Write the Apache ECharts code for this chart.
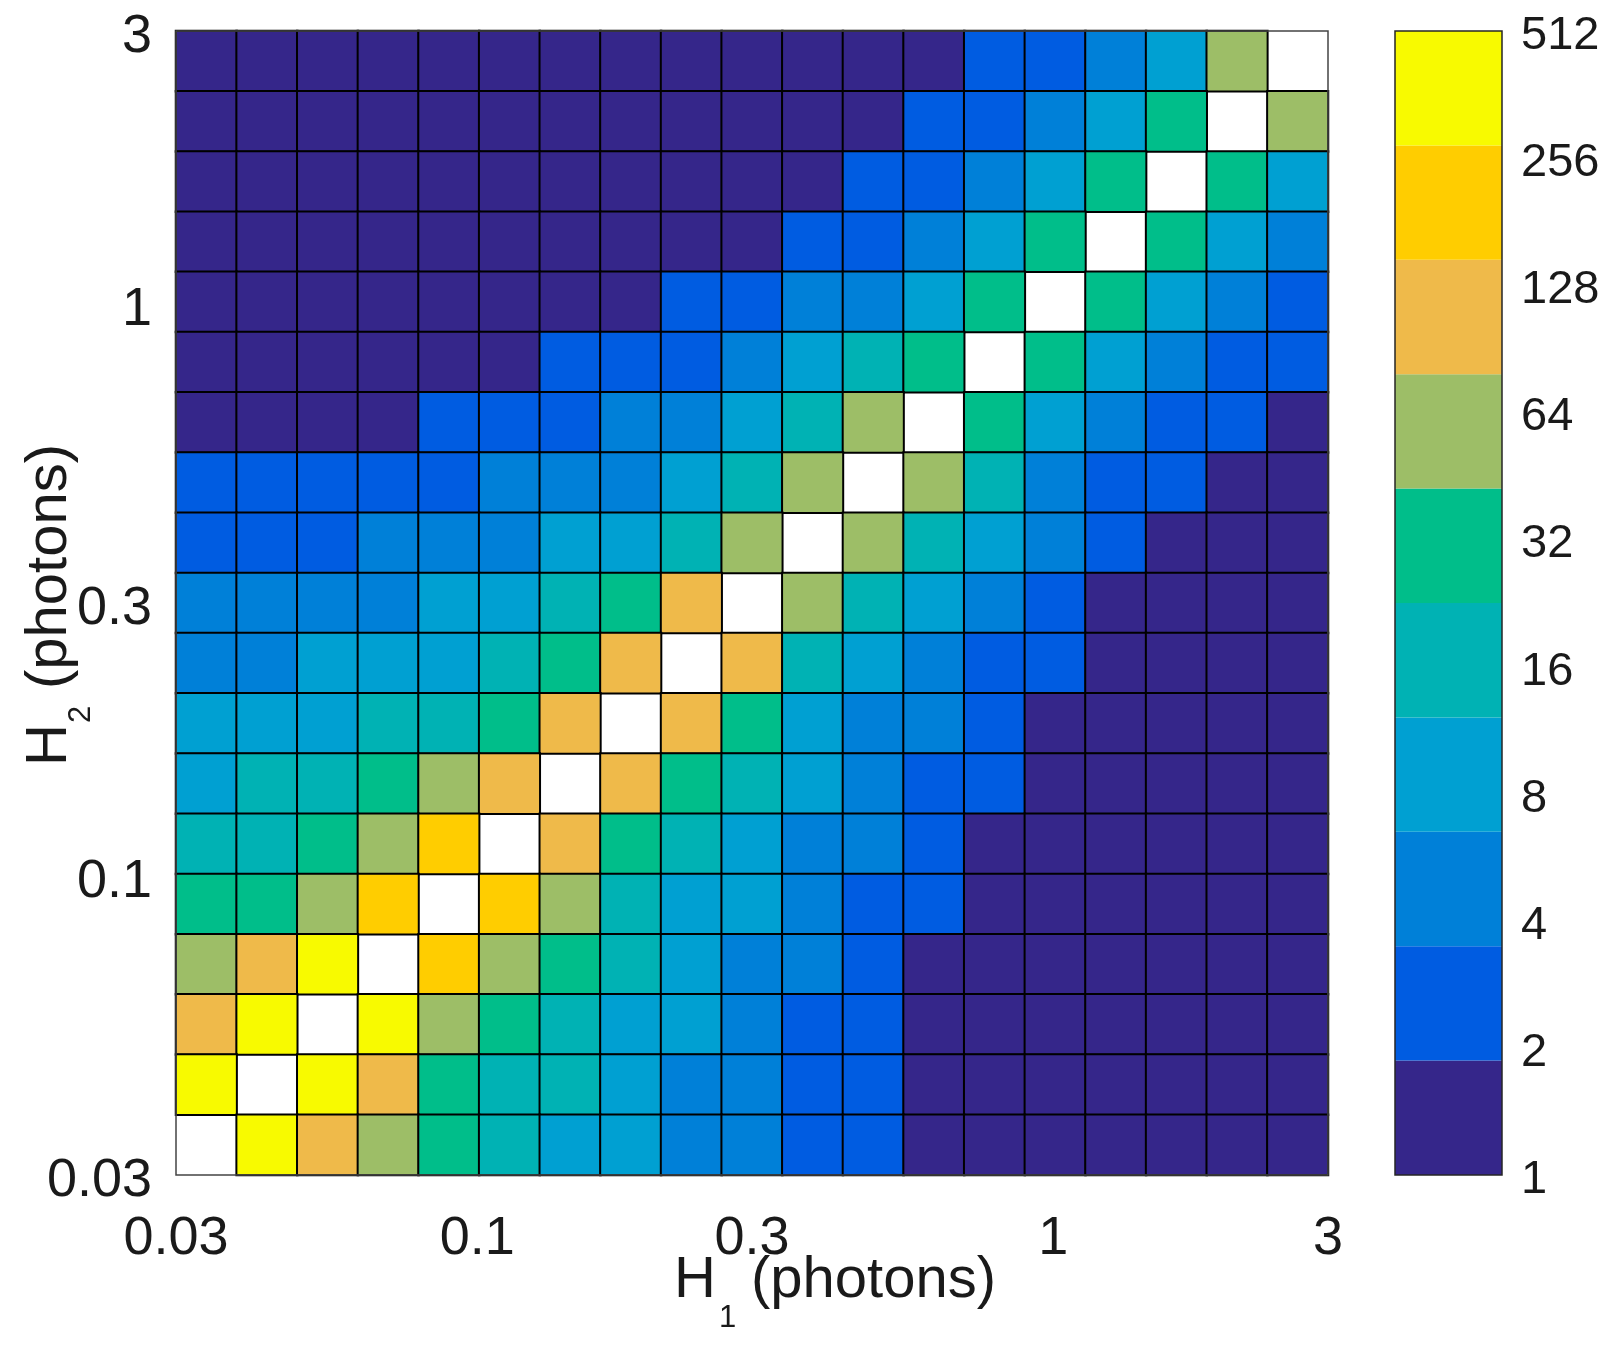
<!DOCTYPE html>
<html>
<head>
<meta charset="utf-8">
<title>H1 / H2 histogram</title>
<script src="https://cdn.jsdelivr.net/npm/echarts@6.0.0/dist/echarts.min.js"></script>
<style>
    html, body { margin: 0; padding: 0; background: #fff; }
    #main { width: 1615px; height: 1346px; }
</style>
</head>
<body>
<div id="main"></div>
<script type="text/javascript">
    // bins: 19 log-spaced bins from 0.03 to 3 photons on both axes
    var binLo = 0.03;
    var binHi = 3;
    var binCount = 19;
    var xTicks = [0.03, 0.1, 0.3, 1, 3];
    var yTicks = [0.03, 0.1, 0.3, 1, 3];
    var cbarTicks = [1, 2, 4, 8, 16, 32, 64, 128, 256, 512];

    // colormap, low -> high (10 levels over log2 1..512)
    var levelColors = ['#35268a', '#005ce1', '#0080d8', '#00a0d2', '#00b2b4',
        '#00be8a', '#9dbe67', '#efba4a', '#ffcd00', '#f8fa00'];

    // counts, rows from top (H2 = 3) to bottom (H2 = 0.03), columns H1 low -> high
    // null = diagonal cells (shown white)
    var countRows = [
        [1, 1, 1, 1, 1, 1, 1, 1, 1, 1, 1, 1, 1, 2, 3, 5, 9, 55, null],
        [1, 1, 1, 1, 1, 1, 1, 1, 1, 1, 1, 1, 2, 3, 5, 10, 30, null, 58],
        [1, 1, 1, 1, 1, 1, 1, 1, 1, 1, 1, 2, 3, 5, 9, 28, null, 32, 10],
        [1, 1, 1, 1, 1, 1, 1, 1, 1, 1, 2, 3, 5, 9, 30, null, 29, 9, 5],
        [1, 1, 1, 1, 1, 1, 1, 1, 2, 3, 4, 5, 9, 32, null, 33, 10, 5, 3],
        [1, 1, 1, 1, 1, 1, 2, 3, 3, 5, 9, 18, 34, null, 35, 10, 5, 3, 2],
        [1, 1, 1, 1, 2, 2, 3, 4, 5, 10, 19, 60, null, 36, 11, 5, 3, 2, 1],
        [2, 2, 3, 3, 3, 4, 5, 6, 9, 18, 62, null, 64, 17, 6, 3, 2, 1, 1],
        [3, 3, 3, 4, 4, 5, 8, 10, 19, 65, null, 66, 18, 9, 5, 3, 1, 1, 1],
        [5, 5, 5, 5, 8, 10, 20, 38, 100, null, 70, 20, 10, 6, 3, 1, 1, 1, 1],
        [5, 6, 7, 8, 9, 16, 36, 115, null, 120, 19, 10, 5, 3, 2, 1, 1, 1, 1],
        [8, 9, 10, 14, 16, 32, 125, null, 130, 34, 11, 5, 4, 3, 1, 1, 1, 1, 1],
        [11, 14, 16, 30, 62, 135, null, 140, 36, 18, 9, 5, 3, 2, 1, 1, 1, 1, 1],
        [15, 18, 34, 70, 180, null, 140, 38, 20, 10, 5, 4, 3, 1, 1, 1, 1, 1, 1],
        [26, 32, 72, 200, null, 210, 75, 21, 11, 9, 5, 3, 2, 1, 1, 1, 1, 1, 1],
        [55, 90, 300, null, 240, 68, 40, 20, 10, 6, 4, 2, 1, 1, 1, 1, 1, 1, 1],
        [100, 320, null, 340, 65, 35, 20, 11, 8, 5, 3, 2, 1, 1, 1, 1, 1, 1, 1],
        [380, null, 400, 120, 36, 20, 16, 10, 6, 4, 3, 2, 1, 1, 1, 1, 1, 1, 1],
        [null, 420, 130, 70, 38, 21, 11, 9, 6, 5, 3, 2, 1, 1, 1, 1, 1, 1, 1]
    ];

    var font = "'Liberation Sans', Arial, Helvetica, sans-serif";
    var textColor = '#1a1a1a';

    // bin centres (log spaced) used as category names
    var binNames = [];
    var logLo = Math.log10(binLo), logHi = Math.log10(binHi);
    for (var i = 0; i < binCount; i++) {
        binNames.push(Math.pow(10, logLo + (i + 0.5) * (logHi - logLo) / binCount).toPrecision(3));
    }

    // heatmap data: [x index, y index, count]
    var heatData = [];
    countRows.forEach(function (row, r) {
        row.forEach(function (v, c) {
            if (v !== null) heatData.push([c, binCount - 1 - r, v]);
        });
    });

    // colour levels on log2 scale
    var cMax = Math.log2(cbarTicks[cbarTicks.length - 1]);
    var band = cMax / levelColors.length;
    var pieces = levelColors.map(function (col, k) {
        var p = { gte: k === 0 ? 0 : Math.pow(2, band * k), color: col };
        if (k < levelColors.length - 1) p.lt = Math.pow(2, band * (k + 1));
        return p;
    });

    var colorbarSeries = levelColors.map(function (col) {
        return {
            type: 'bar', xAxisIndex: 2, yAxisIndex: 2, stack: 'cbar',
            barWidth: '100%', data: [band], silent: true,
            itemStyle: { color: col }
        };
    });

    function tickText(v) {
        return String(Number(Math.pow(10, v).toPrecision(3)));
    }

    var myChart = echarts.init(document.getElementById('main'));
    var option = {
        animation: false,
        backgroundColor: '#fff',
        textStyle: { fontFamily: font },
        grid: [
            { left: 176, top: 31, width: 1152, height: 1144, show: true, z: 10,
              backgroundColor: 'transparent', borderColor: '#444', borderWidth: 1.5 },
            { left: 1395, top: 31, width: 107, height: 1144, show: true, z: 10,
              backgroundColor: 'transparent', borderColor: '#262626', borderWidth: 1.5 }
        ],
        xAxis: [
            { gridIndex: 0, type: 'category', data: binNames, show: false, position: 'top' },
            {
                gridIndex: 0, type: 'value', position: 'bottom',
                min: logLo, max: logHi,
                axisLine: { show: false, onZero: false }, axisTick: { show: false }, splitLine: { show: false },
                axisLabel: {
                    customValues: xTicks.map(Math.log10), formatter: tickText,
                    fontSize: 54, fontFamily: font, color: textColor, margin: 37
                }
            },
            { gridIndex: 1, type: 'category', data: ['c'], show: false }
        ],
        yAxis: [
            { gridIndex: 0, type: 'category', data: binNames, show: false, position: 'right' },
            {
                gridIndex: 0, type: 'value', position: 'left',
                min: Math.log10(binLo), max: Math.log10(binHi),
                axisLine: { show: false, onZero: false }, axisTick: { show: false }, splitLine: { show: false },
                axisLabel: {
                    customValues: yTicks.map(Math.log10), formatter: tickText,
                    fontSize: 54, fontFamily: font, color: textColor, margin: 24,
                    verticalAlign: 'top', lineHeight: 12
                }
            },
            {
                gridIndex: 1, type: 'value', position: 'right',
                min: 0, max: cMax, interval: 1,
                axisLine: { show: false }, axisTick: { show: false }, splitLine: { show: false },
                axisLabel: {
                    formatter: function (v) { return String(Math.pow(2, v)); },
                    fontSize: 47, fontFamily: font, color: textColor, margin: 19,
                    verticalAlign: 'top', lineHeight: 10
                }
            }
        ],
        visualMap: {
            type: 'piecewise', show: false, seriesIndex: 0, dimension: 2,
            pieces: pieces
        },
        series: [{
            type: 'heatmap', xAxisIndex: 0, yAxisIndex: 0,
            data: heatData,
            itemStyle: { borderColor: '#000', borderWidth: 2 },
            emphasis: { disabled: true },
            progressive: 0
        }].concat(colorbarSeries),
        graphic: [
            // x title: H1 (photons)
            { type: 'text', x: 674, y: 1281, silent: true,
              style: { text: 'H', fontSize: 58, fontFamily: font, fill: textColor, textAlign: 'left', textVerticalAlign: 'middle' } },
            { type: 'text', x: 719, y: 1318, silent: true,
              style: { text: '1', fontSize: 31, fontFamily: font, fill: textColor, textAlign: 'left', textVerticalAlign: 'middle' } },
            { type: 'text', x: 751, y: 1281, silent: true,
              style: { text: '(photons)', fontSize: 58, fontFamily: font, fill: textColor, textAlign: 'left', textVerticalAlign: 'middle' } },
            // y title: H2 (photons), rotated
            { type: 'text', x: 50, y: 766, rotation: Math.PI / 2, silent: true,
              style: { text: 'H', fontSize: 58, fontFamily: font, fill: textColor, textAlign: 'left', textVerticalAlign: 'middle' } },
            { type: 'text', x: 81, y: 723, rotation: Math.PI / 2, silent: true,
              style: { text: '2', fontSize: 31, fontFamily: font, fill: textColor, textAlign: 'left', textVerticalAlign: 'middle' } },
            { type: 'text', x: 50, y: 689, rotation: Math.PI / 2, silent: true,
              style: { text: '(photons)', fontSize: 58, fontFamily: font, fill: textColor, textAlign: 'left', textVerticalAlign: 'middle' } }
        ]
    };
    myChart.setOption(option);
</script>
</body>
</html>
